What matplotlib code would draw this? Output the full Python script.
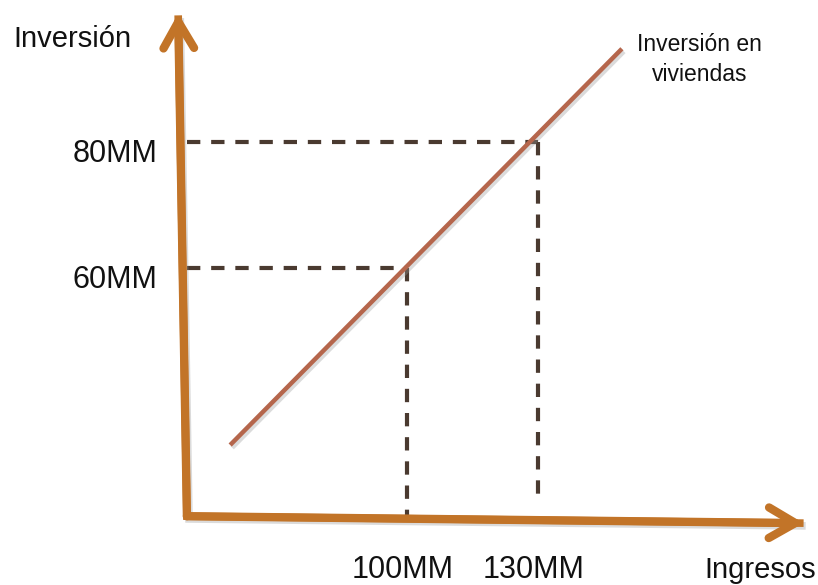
import matplotlib
matplotlib.use("Agg")
import matplotlib.pyplot as plt
import matplotlib.patheffects as pe

# Income (x) and investment (y), in millions
income_ticks = [100, 130]
income_labels = ["100MM", "130MM"]
invest_ticks = [60, 80]
invest_labels = ["60MM", "80MM"]

# Investment-in-housing line, endpoints (income, investment)
line_x = [59.5, 149.2]
line_y = [31.9, 94.8]

# Axis frame: origin and arrow tips
origin = (49.6, 20.6)
y_tip = (47.6, 100.4)
x_tip = (190.8, 19.5)

# Where each vertical guide stops (investment value)
guide_bottom = [20.6, 23.6]

AXIS_C = "#C27428"
LINE_C = "#B5664C"
DASH_C = "#4A3A30"
TEXT_C = "#111111"
FONT = ["Liberation Sans", "DejaVu Sans"]

fig = plt.figure(figsize=(8.18, 5.85), dpi=100)
ax = fig.add_axes([0, 0, 1, 1])
ax.set_xlim(6.8, 194.1)
ax.set_ylim(9.68, 102.54)
ax.axis("off")

shadow = [pe.SimpleLineShadow(offset=(1.5, -2), shadow_color="#999999", alpha=0.35), pe.Normal()]

# dashed guides
for xv, yv, yb in zip(income_ticks, invest_ticks, guide_bottom):
    ax.plot([origin[0], xv], [yv, yv], color=DASH_C, lw=3, ls=(0, (3.2, 2.6)), zorder=2)
    ax.plot([xv, xv], [yv, yb], color=DASH_C, lw=3, ls=(0, (3.2, 2.6)), zorder=2)

# investment line
ax.plot(line_x, line_y, color=LINE_C, lw=3.2, solid_capstyle="butt", zorder=3,
        path_effects=shadow)

# axes with open arrowheads
ax.plot([y_tip[0], origin[0], x_tip[0]], [y_tip[1] - 0.3, origin[1], x_tip[1]],
        color=AXIS_C, lw=5.5, solid_joinstyle="miter", solid_capstyle="butt", zorder=4,
        path_effects=shadow)
for tip in (y_tip, x_tip):
    ax.annotate("", xy=tip, xytext=origin,
                arrowprops=dict(arrowstyle="->, head_length=0.95, head_width=0.55",
                                mutation_scale=20, color=AXIS_C, lw=6,
                                shrinkA=0, shrinkB=0, capstyle="round",
                                joinstyle="round"),
                zorder=4)

# tick labels
for yv, lab in zip(invest_ticks, invest_labels):
    ax.text(42.8, yv - 3.1, lab, fontsize=22, family=FONT, ha="right", va="baseline",
            color=TEXT_C)
for xv, lab in zip(income_ticks, income_labels):
    ax.text(xv - 1.0, 10.8, lab, fontsize=22, family=FONT, ha="center", va="baseline",
            color=TEXT_C)

# axis titles
ax.text(9.8, 95.1, "Inversión", fontsize=21, family=FONT, ha="left", va="baseline", color=TEXT_C)
ax.text(193.6, 10.8, "Ingresos", fontsize=21, family=FONT, ha="right", va="baseline", color=TEXT_C)

# line label
ax.text(166.9, 94.5, "Inversión en", fontsize=16.5, family=FONT, ha="center", va="baseline",
        color=TEXT_C)
ax.text(166.9, 89.7, "viviendas", fontsize=16.5, family=FONT, ha="center", va="baseline",
        color=TEXT_C)

fig.savefig("out.png", dpi=100)
